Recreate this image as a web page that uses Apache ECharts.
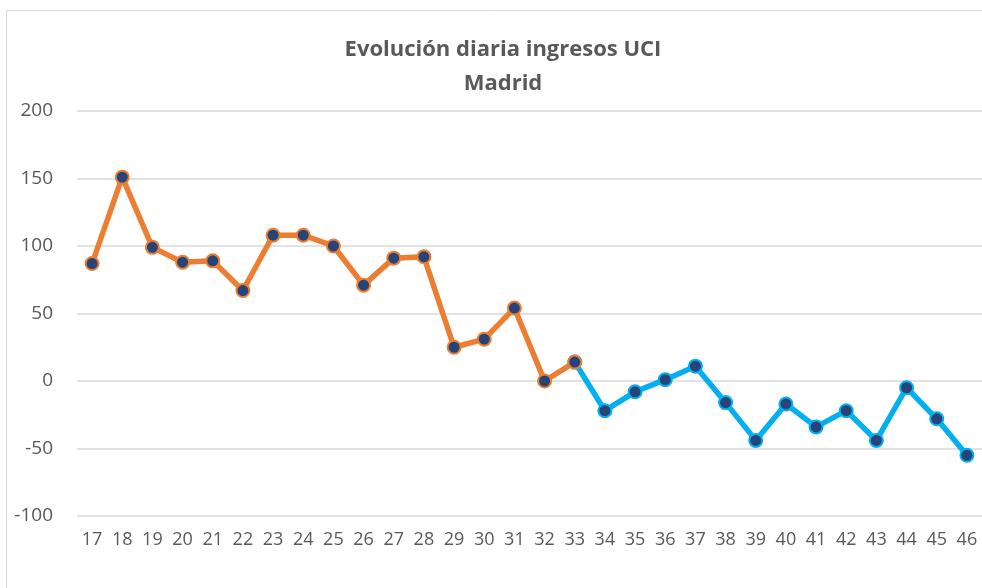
<!DOCTYPE html>
<html>
<head>
<meta charset="utf-8">
<script src="https://cdn.jsdelivr.net/npm/echarts@6/dist/echarts.min.js"></script>
<style>
  html, body { margin: 0; padding: 0; background: #fff; }
  #chart { width: 982px; height: 588px; }
</style>
</head>
<body>
<div id="chart"></div>
<script>
// días
var dias = ['17', '18', '19', '20', '21', '22', '23', '24', '25', '26', '27', '28', '29', '30', '31',
    '32', '33', '34', '35', '36', '37', '38', '39', '40', '41', '42', '43', '44', '45', '46'];
// tramo naranja (17-33)
var tramoNaranja = [87, 151, 99, 88, 89, 67, 108, 108, 100, 71, 91, 92, 25, 31, 54, 0, 14,
    null, null, null, null, null, null, null, null, null, null, null, null, null];
// tramo azul (33-46)
var tramoAzul = [null, null, null, null, null, null, null, null, null, null, null, null, null, null, null, null,
    14, -22, -8, 1, 11, -16, -44, -17, -34, -22, -44, -5, -28, -55];
var ejeY = { min: -100, max: 200, interval: 50 };

var myChart = echarts.init(document.getElementById('chart'));

myChart.setOption({
    backgroundColor: '#fff',
    animation: false,
    title: {
        text: 'Evolución diaria ingresos UCI\nMadrid',
        left: 498,
        textAlign: 'center',
        top: 28,
        textStyle: {
            fontFamily: 'Open Sans',
            fontWeight: 'bold',
            fontSize: 22,
            lineHeight: 34,
            color: '#595959'
        }
    },
    graphic: [{
        type: 'rect',
        shape: { x: 6.5, y: 10.5, width: 1000, height: 600 },
        style: { fill: 'none', stroke: '#d9d9d9', lineWidth: 1 },
        silent: true
    }],
    grid: {
        left: 77,
        right: 0,
        top: 111,
        bottom: 72
    },
    xAxis: {
        type: 'category',
        data: dias,
        boundaryGap: true,
        axisLine: { show: false },
        axisTick: { show: false },
        axisLabel: {
            fontFamily: 'Open Sans',
            fontSize: 18,
            color: '#595959',
            margin: 15,
            interval: 0
        }
    },
    yAxis: {
        type: 'value',
        min: ejeY.min,
        max: ejeY.max,
        interval: ejeY.interval,
        axisLine: { show: false },
        axisTick: { show: false },
        axisLabel: {
            fontFamily: 'Open Sans',
            fontSize: 19,
            color: '#595959',
            margin: 24
        },
        splitLine: {
            lineStyle: { color: '#d9d9d9', width: 1.5 }
        }
    },
    series: [{
            name: 'azul',
            type: 'line',
            data: tramoAzul,
            symbol: 'circle',
            symbolSize: 13,
            lineStyle: { color: '#00B0F0', width: 5.5 },
            itemStyle: {
                color: '#264478',
                borderColor: '#00B0F0',
                borderWidth: 2
            }
        },
        {
            name: 'naranja',
            type: 'line',
            data: tramoNaranja,
            symbol: 'circle',
            symbolSize: 13,
            lineStyle: { color: '#ED7D31', width: 5.5 },
            itemStyle: {
                color: '#264478',
                borderColor: '#ED7D31',
                borderWidth: 2
            }
        }
    ]
});
</script>
</body>
</html>
